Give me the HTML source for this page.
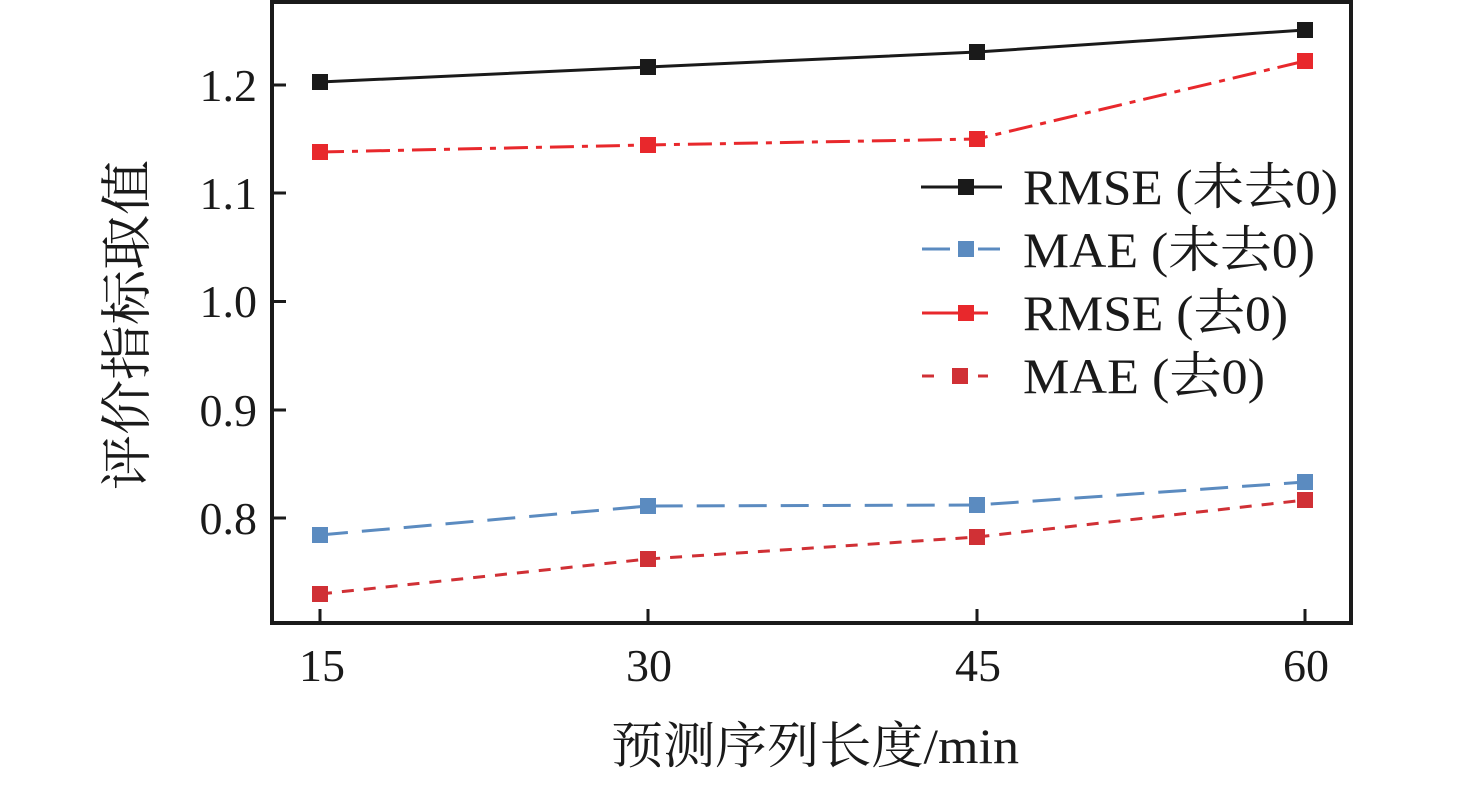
<!DOCTYPE html>
<html><head><meta charset="utf-8"><style>body{margin:0;background:#fff}</style></head><body>
<svg width="1476" height="781" xmlns="http://www.w3.org/2000/svg" font-family="'Liberation Serif','Noto Serif CJK SC',serif" fill="#1a1a1a">
<rect x="272" y="2" width="1079" height="621" fill="none" stroke="#1a1a1a" stroke-width="4"/>
<g stroke="#1a1a1a" stroke-width="3">
<line x1="272" y1="85" x2="286" y2="85"/><line x1="272" y1="193" x2="286" y2="193"/><line x1="272" y1="301.5" x2="286" y2="301.5"/><line x1="272" y1="410" x2="286" y2="410"/><line x1="272" y1="518" x2="286" y2="518"/>
<line x1="320" y1="609" x2="320" y2="623"/><line x1="648" y1="609" x2="648" y2="623"/><line x1="977" y1="609" x2="977" y2="623"/><line x1="1305" y1="609" x2="1305" y2="623"/>
</g>
<g font-size="46" text-anchor="end">
<text x="257" y="101">1.2</text><text x="257" y="209">1.1</text><text x="257" y="317">1.0</text><text x="257" y="426">0.9</text><text x="257" y="534">0.8</text>
</g>
<g font-size="46" text-anchor="middle">
<text x="322" y="681">15</text><text x="649" y="681">30</text><text x="978" y="681">45</text><text x="1306" y="681">60</text>
<text x="815" y="763" font-size="50" textLength="408" lengthAdjust="spacingAndGlyphs">预测序列长度/min</text>
<text transform="translate(145,325) rotate(-90)" font-size="52" textLength="330" lengthAdjust="spacingAndGlyphs">评价指标取值</text>
</g>
<polyline points="320,82 648,67 977,52 1305,30" fill="none" stroke="#1a1a1a" stroke-width="3"/>
<polyline points="320,152 648,145 977,139 1305,61" fill="none" stroke="#e8282c" stroke-width="3" stroke-dasharray="24,8,6,8"/>
<polyline points="320,535 648,506 977,505 1305,482" fill="none" stroke="#5b8bc0" stroke-width="3" stroke-dasharray="28,14"/>
<polyline points="320,594 648,559 977,537 1305,500" fill="none" stroke="#d03035" stroke-width="3" stroke-dasharray="12,10"/>
<g fill="#1a1a1a"><rect x="312" y="74" width="16" height="16"/><rect x="640" y="59" width="16" height="16"/><rect x="969" y="44" width="16" height="16"/><rect x="1297" y="22" width="16" height="16"/></g>
<g fill="#e8282c"><rect x="312" y="144" width="16" height="16"/><rect x="640" y="137" width="16" height="16"/><rect x="969" y="131" width="16" height="16"/><rect x="1297" y="53" width="16" height="16"/></g>
<g fill="#5b8bc0"><rect x="312" y="527" width="16" height="16"/><rect x="640" y="498" width="16" height="16"/><rect x="969" y="497" width="16" height="16"/><rect x="1297" y="474" width="16" height="16"/></g>
<g fill="#d03035"><rect x="312" y="586" width="16" height="16"/><rect x="640" y="551" width="16" height="16"/><rect x="969" y="529" width="16" height="16"/><rect x="1297" y="492" width="16" height="16"/></g>
<line x1="921" y1="187" x2="1002" y2="187" stroke="#1a1a1a" stroke-width="3"/><rect x="958" y="179" width="16" height="16"/>
<line x1="922" y1="249" x2="950" y2="249" stroke="#5b8bc0" stroke-width="3"/><line x1="978" y1="249" x2="1000" y2="249" stroke="#5b8bc0" stroke-width="3"/><rect x="958" y="241" width="16" height="16" fill="#5b8bc0"/>
<line x1="922" y1="313" x2="988" y2="313" stroke="#e8282c" stroke-width="3"/><rect x="958" y="305" width="16" height="16" fill="#e8282c"/>
<line x1="922" y1="376" x2="934" y2="376" stroke="#d03035" stroke-width="3"/><line x1="978" y1="376" x2="988" y2="376" stroke="#d03035" stroke-width="3"/><rect x="952" y="368" width="16" height="16" fill="#d03035"/>
<g font-size="50">
<text x="1023" y="204" textLength="315" lengthAdjust="spacingAndGlyphs">RMSE (未去0)</text>
<text x="1023" y="267" textLength="292" lengthAdjust="spacingAndGlyphs">MAE (未去0)</text>
<text x="1023" y="330" textLength="265" lengthAdjust="spacingAndGlyphs">RMSE (去0)</text>
<text x="1023" y="393" textLength="242" lengthAdjust="spacingAndGlyphs">MAE (去0)</text>
</g>
</svg>
</body></html>
